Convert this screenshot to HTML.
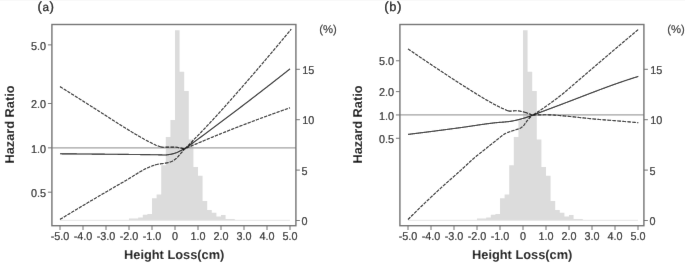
<!DOCTYPE html>
<html><head><meta charset="utf-8"><style>
html,body{margin:0;padding:0;background:#fff;}
svg{display:block;}
text{font-family:"Liberation Sans",sans-serif;text-rendering:geometricPrecision;}
.tk{font-size:11.4px;fill:#1a1a1a;stroke:#1a1a1a;stroke-width:0.18px;}
.ax{font-size:12.8px;font-weight:bold;fill:#111;}
.pl{font-size:13.4px;fill:#000;stroke:#000;stroke-width:0.25px;}
.pc{font-size:11.3px;fill:#222;stroke:#222;stroke-width:0.15px;}
</style></head><body>
<svg width="685" height="266" viewBox="0 0 685 266">
<defs><filter id="bl" x="0" y="0" width="100%" height="100%"><feConvolveMatrix order="3" kernelMatrix="0.0035 0.0587 0.0035 0.0587 1.0000 0.0587 0.0035 0.0587 0.0035" edgeMode="duplicate" preserveAlpha="true"/></filter></defs>
<rect width="685" height="266" fill="#fff"/>
<g filter="url(#bl)">
<rect width="685" height="266" fill="#fff"/>
<path d="M129.00 220.30 L129.00 218.50 L133.60 218.50 L133.60 218.50 L138.20 218.50 L138.20 217.60 L142.80 217.60 L142.80 214.70 L147.40 214.70 L147.40 213.90 L152.00 213.90 L152.00 198.20 L156.60 198.20 L156.60 194.40 L161.20 194.40 L161.20 165.30 L165.80 165.30 L165.80 137.00 L170.40 137.00 L170.40 120.00 L175.00 120.00 L175.00 30.20 L179.60 30.20 L179.60 71.70 L184.20 71.70 L184.20 91.00 L188.80 91.00 L188.80 139.50 L193.40 139.50 L193.40 167.00 L198.00 167.00 L198.00 175.80 L202.60 175.80 L202.60 201.00 L207.20 201.00 L207.20 209.90 L211.80 209.90 L211.80 212.80 L216.40 212.80 L216.40 216.50 L221.00 216.50 L221.00 215.00 L225.60 215.00 L225.60 219.00 L230.20 219.00 L230.20 219.00 L234.80 219.00 L234.80 220.30 Z" fill="#dcdcdc"/>
<line x1="60.0" y1="220.3" x2="290.0" y2="220.3" stroke="#e4e4e4" stroke-width="1"/>
<line x1="51.9" y1="147.85" x2="295.9" y2="147.85" stroke="#a0a0a0" stroke-width="1.3"/>
<path d="M60.00 86.60 L60.50 86.91 L61.00 87.23 L61.50 87.54 L62.00 87.86 L62.50 88.17 L63.00 88.49 L63.50 88.80 L64.00 89.12 L64.50 89.43 L65.00 89.75 L65.50 90.06 L66.00 90.37 L66.50 90.69 L67.00 91.00 L67.50 91.32 L68.00 91.63 L68.50 91.95 L69.00 92.26 L69.50 92.58 L70.00 92.89 L70.50 93.21 L71.00 93.52 L71.50 93.84 L72.00 94.16 L72.50 94.47 L73.00 94.79 L73.50 95.10 L74.00 95.42 L74.50 95.73 L75.00 96.05 L75.50 96.36 L76.00 96.68 L76.50 96.99 L77.00 97.31 L77.50 97.63 L78.00 97.94 L78.50 98.26 L79.00 98.57 L79.50 98.89 L80.00 99.21 L80.50 99.52 L81.00 99.84 L81.50 100.15 L82.00 100.47 L82.50 100.79 L83.00 101.10 L83.50 101.42 L84.00 101.73 L84.50 102.05 L85.00 102.37 L85.50 102.68 L86.00 103.00 L86.50 103.32 L87.00 103.63 L87.50 103.95 L88.00 104.26 L88.50 104.58 L89.00 104.90 L89.50 105.21 L90.00 105.53 L90.50 105.85 L91.00 106.16 L91.50 106.48 L92.00 106.80 L92.50 107.12 L93.00 107.43 L93.50 107.75 L94.00 108.07 L94.50 108.38 L95.00 108.70 L95.50 109.02 L96.00 109.33 L96.50 109.65 L97.00 109.97 L97.50 110.29 L98.00 110.61 L98.50 110.93 L99.00 111.25 L99.50 111.57 L100.00 111.89 L100.50 112.21 L101.00 112.53 L101.50 112.85 L102.00 113.17 L102.50 113.49 L103.00 113.81 L103.50 114.13 L104.00 114.45 L104.50 114.77 L105.00 115.09 L105.50 115.42 L106.00 115.74 L106.50 116.06 L107.00 116.38 L107.50 116.70 L108.00 117.02 L108.50 117.34 L109.00 117.66 L109.50 117.99 L110.00 118.31 L110.50 118.63 L111.00 118.95 L111.50 119.27 L112.00 119.59 L112.50 119.91 L113.00 120.23 L113.50 120.55 L114.00 120.87 L114.50 121.19 L115.00 121.51 L115.50 121.82 L116.00 122.14 L116.50 122.46 L117.00 122.78 L117.50 123.10 L118.00 123.41 L118.50 123.73 L119.00 124.05 L119.50 124.36 L120.00 124.68 L120.50 124.99 L121.00 125.31 L121.50 125.62 L122.00 125.93 L122.50 126.24 L123.00 126.56 L123.50 126.87 L124.00 127.18 L124.50 127.49 L125.00 127.80 L125.50 128.11 L126.00 128.42 L126.50 128.73 L127.00 129.04 L127.50 129.35 L128.00 129.66 L128.50 129.97 L129.00 130.27 L129.50 130.58 L130.00 130.89 L130.50 131.20 L131.00 131.50 L131.50 131.81 L132.00 132.11 L132.50 132.42 L133.00 132.72 L133.50 133.02 L134.00 133.32 L134.50 133.62 L135.00 133.92 L135.50 134.22 L136.00 134.52 L136.50 134.81 L137.00 135.10 L137.50 135.39 L138.00 135.68 L138.50 135.97 L139.00 136.26 L139.50 136.55 L140.00 136.84 L140.50 137.13 L141.00 137.42 L141.50 137.71 L142.00 137.99 L142.50 138.28 L143.00 138.56 L143.50 138.85 L144.00 139.13 L144.50 139.41 L145.00 139.69 L145.50 139.97 L146.00 140.25 L146.50 140.52 L147.00 140.79 L147.50 141.06 L148.00 141.33 L148.50 141.59 L149.00 141.85 L149.50 142.11 L150.00 142.36 L150.50 142.61 L151.00 142.85 L151.50 143.10 L152.00 143.34 L152.50 143.58 L153.00 143.83 L153.50 144.07 L154.00 144.31 L154.50 144.54 L155.00 144.77 L155.50 144.99 L156.00 145.21 L156.50 145.41 L157.00 145.59 L157.50 145.77 L158.00 145.93 L158.50 146.09 L159.00 146.26 L159.50 146.43 L160.00 146.59 L160.50 146.74" fill="none" stroke="#111" stroke-width="1.12" stroke-dasharray="3.3 1.1"/><path d="M160.50 146.74 L161.00 146.88 L161.50 147.00 L162.00 147.10 L162.50 147.16 L163.00 147.20 L163.50 147.20 L164.00 147.19 L164.50 147.17 L165.00 147.16 L165.50 147.14 L166.00 147.12 L166.50 147.11 L167.00 147.10 L167.50 147.10 L168.00 147.10 L168.50 147.10 L169.00 147.10 L169.50 147.10 L170.00 147.10 L170.50 147.10 L171.00 147.10 L171.50 147.10 L172.00 147.10 L172.50 147.10 L173.00 147.10 L173.50 147.10 L174.00 147.10 L174.50 147.10 L175.00 147.10 L175.50 147.11 L176.00 147.16 L176.50 147.22 L177.00 147.30 L177.50 147.39 L178.00 147.49 L178.50 147.60 L179.00 147.71 L179.50 147.81 L180.00 147.90 L180.50 147.99 L181.00 148.08 L181.50 148.17 L182.00 148.26 L182.50 148.35 L183.00 148.45 L183.50 148.54 L184.00 148.64 L184.50 148.74 L184.80 148.80" fill="none" stroke="#111" stroke-width="1.12" stroke-dasharray="3.8 1.2"/><path d="M184.80 148.80 L185.30 148.30 L185.80 147.81 L186.30 147.31 L186.80 146.81 L187.30 146.31 L187.80 145.81 L188.30 145.31 L188.80 144.80 L189.30 144.30 L189.80 143.80 L190.30 143.29 L190.80 142.79 L191.30 142.28 L191.80 141.78 L192.30 141.27 L192.80 140.76 L193.30 140.25 L193.80 139.74 L194.30 139.23 L194.80 138.72 L195.30 138.20 L195.80 137.69 L196.30 137.18 L196.80 136.66 L197.30 136.15 L197.80 135.63 L198.30 135.12 L198.80 134.60 L199.30 134.08 L199.80 133.56 L200.30 133.04 L200.80 132.52 L201.30 132.00 L201.80 131.48 L202.30 130.95 L202.80 130.43 L203.30 129.91 L203.80 129.38 L204.30 128.86 L204.80 128.33 L205.30 127.80 L205.80 127.27 L206.30 126.75 L206.80 126.22 L207.30 125.69 L207.80 125.16 L208.30 124.63 L208.80 124.09 L209.30 123.56 L209.80 123.03 L210.30 122.49 L210.80 121.96 L211.30 121.42 L211.80 120.89 L212.30 120.35 L212.80 119.82 L213.30 119.28 L213.80 118.74 L214.30 118.20 L214.80 117.66 L215.30 117.11 L215.80 116.57 L216.30 116.02 L216.80 115.48 L217.30 114.93 L217.80 114.38 L218.30 113.83 L218.80 113.28 L219.30 112.73 L219.80 112.18 L220.30 111.62 L220.80 111.07 L221.30 110.52 L221.80 109.96 L222.30 109.40 L222.80 108.85 L223.30 108.29 L223.80 107.73 L224.30 107.17 L224.80 106.61 L225.30 106.05 L225.80 105.49 L226.30 104.92 L226.80 104.36 L227.30 103.80 L227.80 103.23 L228.30 102.67 L228.80 102.10 L229.30 101.54 L229.80 100.97 L230.30 100.41 L230.80 99.84 L231.30 99.28 L231.80 98.71 L232.30 98.14 L232.80 97.57 L233.30 97.01 L233.80 96.44 L234.30 95.87 L234.80 95.30 L235.30 94.74 L235.80 94.17 L236.30 93.60 L236.80 93.03 L237.30 92.46 L237.80 91.90 L238.30 91.33 L238.80 90.76 L239.30 90.19 L239.80 89.62 L240.30 89.05 L240.80 88.48 L241.30 87.91 L241.80 87.34 L242.30 86.77 L242.80 86.20 L243.30 85.63 L243.80 85.06 L244.30 84.48 L244.80 83.91 L245.30 83.34 L245.80 82.76 L246.30 82.19 L246.80 81.61 L247.30 81.04 L247.80 80.46 L248.30 79.89 L248.80 79.31 L249.30 78.73 L249.80 78.16 L250.30 77.58 L250.80 77.00 L251.30 76.42 L251.80 75.84 L252.30 75.27 L252.80 74.69 L253.30 74.11 L253.80 73.53 L254.30 72.95 L254.80 72.36 L255.30 71.78 L255.80 71.20 L256.30 70.62 L256.80 70.04 L257.30 69.45 L257.80 68.87 L258.30 68.29 L258.80 67.70 L259.30 67.12 L259.80 66.53 L260.30 65.95 L260.80 65.36 L261.30 64.78 L261.80 64.19 L262.30 63.61 L262.80 63.02 L263.30 62.43 L263.80 61.85 L264.30 61.26 L264.80 60.67 L265.30 60.08 L265.80 59.50 L266.30 58.91 L266.80 58.32 L267.30 57.73 L267.80 57.14 L268.30 56.55 L268.80 55.96 L269.30 55.37 L269.80 54.78 L270.30 54.19 L270.80 53.60 L271.30 53.01 L271.80 52.41 L272.30 51.82 L272.80 51.23 L273.30 50.64 L273.80 50.04 L274.30 49.45 L274.80 48.86 L275.30 48.26 L275.80 47.67 L276.30 47.07 L276.80 46.48 L277.30 45.88 L277.80 45.29 L278.30 44.69 L278.80 44.10 L279.30 43.50 L279.80 42.90 L280.30 42.31 L280.80 41.71 L281.30 41.11 L281.80 40.51 L282.30 39.91 L282.80 39.31 L283.30 38.72 L283.80 38.12 L284.30 37.52 L284.80 36.92 L285.30 36.31 L285.80 35.71 L286.30 35.11 L286.80 34.51 L287.30 33.91 L287.80 33.31 L288.30 32.70 L288.80 32.10 L289.30 31.50 L289.80 30.89 L290.30 30.29 L290.80 29.68 L291.20 29.20" fill="none" stroke="#111" stroke-width="1.12" stroke-dasharray="3.3 1.1"/>
<path d="M60.00 219.40 L60.50 219.10 L61.00 218.79 L61.50 218.49 L62.00 218.18 L62.50 217.88 L63.00 217.58 L63.50 217.27 L64.00 216.97 L64.50 216.67 L65.00 216.37 L65.50 216.06 L66.00 215.76 L66.50 215.46 L67.00 215.16 L67.50 214.85 L68.00 214.55 L68.50 214.25 L69.00 213.95 L69.50 213.65 L70.00 213.35 L70.50 213.05 L71.00 212.74 L71.50 212.44 L72.00 212.14 L72.50 211.84 L73.00 211.54 L73.50 211.24 L74.00 210.94 L74.50 210.64 L75.00 210.34 L75.50 210.04 L76.00 209.74 L76.50 209.44 L77.00 209.14 L77.50 208.84 L78.00 208.54 L78.50 208.24 L79.00 207.95 L79.50 207.65 L80.00 207.35 L80.50 207.05 L81.00 206.75 L81.50 206.45 L82.00 206.16 L82.50 205.86 L83.00 205.56 L83.50 205.26 L84.00 204.96 L84.50 204.67 L85.00 204.37 L85.50 204.07 L86.00 203.77 L86.50 203.48 L87.00 203.18 L87.50 202.88 L88.00 202.59 L88.50 202.29 L89.00 201.99 L89.50 201.70 L90.00 201.40 L90.50 201.10 L91.00 200.81 L91.50 200.51 L92.00 200.22 L92.50 199.92 L93.00 199.63 L93.50 199.33 L94.00 199.04 L94.50 198.74 L95.00 198.45 L95.50 198.15 L96.00 197.86 L96.50 197.56 L97.00 197.27 L97.50 196.97 L98.00 196.68 L98.50 196.38 L99.00 196.09 L99.50 195.79 L100.00 195.50 L100.50 195.21 L101.00 194.91 L101.50 194.62 L102.00 194.33 L102.50 194.03 L103.00 193.74 L103.50 193.45 L104.00 193.15 L104.50 192.86 L105.00 192.57 L105.50 192.28 L106.00 191.99 L106.50 191.69 L107.00 191.40 L107.50 191.11 L108.00 190.82 L108.50 190.53 L109.00 190.24 L109.50 189.95 L110.00 189.66 L110.50 189.37 L111.00 189.08 L111.50 188.79 L112.00 188.50 L112.50 188.21 L113.00 187.92 L113.50 187.63 L114.00 187.34 L114.50 187.05 L115.00 186.76 L115.50 186.47 L116.00 186.18 L116.50 185.89 L117.00 185.60 L117.50 185.32 L118.00 185.03 L118.50 184.74 L119.00 184.45 L119.50 184.16 L120.00 183.87 L120.50 183.59 L121.00 183.30 L121.50 183.01 L122.00 182.72 L122.50 182.44 L123.00 182.15 L123.50 181.86 L124.00 181.57 L124.50 181.29 L125.00 181.00 L125.50 180.71 L126.00 180.42 L126.50 180.13 L127.00 179.83 L127.50 179.53 L128.00 179.23 L128.50 178.92 L129.00 178.62 L129.50 178.31 L130.00 178.00 L130.50 177.70 L131.00 177.39 L131.50 177.07 L132.00 176.76 L132.50 176.45 L133.00 176.14 L133.50 175.83 L134.00 175.51 L134.50 175.20 L135.00 174.89 L135.50 174.58 L136.00 174.27 L136.50 173.96 L137.00 173.65 L137.50 173.35 L138.00 173.05 L138.50 172.74 L139.00 172.44 L139.50 172.15 L140.00 171.85 L140.50 171.56 L141.00 171.27 L141.50 170.99 L142.00 170.70 L142.50 170.43 L143.00 170.15 L143.50 169.88 L144.00 169.61 L144.50 169.35 L145.00 169.09 L145.50 168.84 L146.00 168.59 L146.50 168.34 L147.00 168.11 L147.50 167.87 L148.00 167.65 L148.50 167.43 L149.00 167.21 L149.50 167.00 L150.00 166.80 L150.50 166.60 L151.00 166.40 L151.50 166.21 L152.00 166.02 L152.50 165.83 L153.00 165.65 L153.50 165.47 L154.00 165.30 L154.50 165.13 L155.00 164.97" fill="none" stroke="#111" stroke-width="1.12" stroke-dasharray="3.3 1.1"/><path d="M155.00 164.97 L155.50 164.82 L156.00 164.68 L156.50 164.55 L157.00 164.43 L157.50 164.32 L158.00 164.22 L158.50 164.13 L159.00 164.05 L159.50 163.98 L160.00 163.91 L160.50 163.84 L161.00 163.78 L161.50 163.72 L162.00 163.66 L162.50 163.59 L163.00 163.53 L163.50 163.46 L164.00 163.39 L164.50 163.31 L165.00 163.22 L165.50 163.12 L166.00 163.03 L166.50 162.93 L167.00 162.83 L167.50 162.72 L168.00 162.61 L168.50 162.48 L169.00 162.36 L169.50 162.22 L170.00 162.07" fill="none" stroke="#111" stroke-width="1.12" stroke-dasharray="3.8 1.2"/><path d="M170.00 162.07 L170.50 161.91 L171.00 161.74 L171.50 161.54 L172.00 161.32 L172.50 161.06 L173.00 160.78 L173.50 160.47 L174.00 160.14 L174.50 159.79 L175.00 159.41 L175.50 159.03 L176.00 158.63 L176.50 158.22 L177.00 157.75 L177.50 157.23 L178.00 156.67 L178.50 156.08 L179.00 155.48 L179.50 154.88 L180.00 154.30 L180.50 153.74 L181.00 153.17 L181.50 152.60 L182.00 152.03 L182.50 151.46 L183.00 150.88 L183.50 150.31 L184.00 149.73 L184.50 149.15 L184.80 148.80 L185.30 148.58 L185.80 148.37 L186.30 148.15 L186.80 147.93 L187.30 147.72 L187.80 147.50 L188.30 147.28 L188.80 147.07 L189.30 146.85 L189.80 146.64 L190.30 146.42 L190.80 146.21 L191.30 145.99 L191.80 145.78 L192.30 145.56 L192.80 145.35 L193.30 145.14 L193.80 144.92 L194.30 144.71 L194.80 144.50 L195.30 144.28 L195.80 144.07 L196.30 143.86 L196.80 143.65 L197.30 143.43 L197.80 143.22 L198.30 143.01 L198.80 142.80 L199.30 142.59 L199.80 142.38 L200.30 142.17 L200.80 141.95 L201.30 141.74 L201.80 141.53 L202.30 141.32 L202.80 141.12 L203.30 140.91 L203.80 140.70 L204.30 140.49 L204.80 140.28 L205.30 140.07 L205.80 139.86 L206.30 139.65 L206.80 139.45 L207.30 139.24 L207.80 139.03 L208.30 138.82 L208.80 138.62 L209.30 138.41 L209.80 138.21 L210.30 138.00 L210.80 137.79 L211.30 137.59 L211.80 137.38 L212.30 137.18 L212.80 136.97 L213.30 136.77 L213.80 136.56 L214.30 136.36 L214.80 136.15 L215.30 135.95 L215.80 135.75 L216.30 135.54 L216.80 135.34 L217.30 135.13 L217.80 134.93 L218.30 134.73 L218.80 134.52 L219.30 134.32 L219.80 134.12 L220.30 133.92 L220.80 133.71 L221.30 133.51 L221.80 133.31 L222.30 133.11 L222.80 132.91 L223.30 132.71 L223.80 132.51 L224.30 132.31 L224.80 132.11 L225.30 131.91 L225.80 131.71 L226.30 131.51 L226.80 131.31 L227.30 131.11 L227.80 130.91 L228.30 130.71 L228.80 130.51 L229.30 130.31 L229.80 130.11 L230.30 129.92 L230.80 129.72 L231.30 129.52 L231.80 129.33 L232.30 129.13 L232.80 128.93 L233.30 128.74 L233.80 128.54 L234.30 128.35 L234.80 128.15 L235.30 127.96 L235.80 127.76 L236.30 127.57 L236.80 127.37 L237.30 127.18 L237.80 126.99 L238.30 126.79 L238.80 126.60 L239.30 126.41 L239.80 126.22 L240.30 126.02 L240.80 125.83 L241.30 125.64 L241.80 125.45 L242.30 125.26 L242.80 125.07 L243.30 124.88 L243.80 124.68 L244.30 124.49 L244.80 124.30 L245.30 124.11 L245.80 123.92 L246.30 123.73 L246.80 123.54 L247.30 123.35 L247.80 123.16 L248.30 122.97 L248.80 122.78 L249.30 122.60 L249.80 122.41 L250.30 122.22 L250.80 122.03 L251.30 121.84 L251.80 121.65 L252.30 121.46 L252.80 121.28 L253.30 121.09 L253.80 120.90 L254.30 120.71 L254.80 120.52 L255.30 120.34 L255.80 120.15 L256.30 119.96 L256.80 119.78 L257.30 119.59 L257.80 119.40 L258.30 119.22 L258.80 119.03 L259.30 118.84 L259.80 118.66 L260.30 118.47 L260.80 118.29 L261.30 118.10 L261.80 117.92 L262.30 117.73 L262.80 117.55 L263.30 117.36 L263.80 117.18 L264.30 116.99 L264.80 116.81 L265.30 116.63 L265.80 116.44 L266.30 116.26 L266.80 116.08 L267.30 115.89 L267.80 115.71 L268.30 115.53 L268.80 115.35 L269.30 115.16 L269.80 114.98 L270.30 114.80 L270.80 114.62 L271.30 114.44 L271.80 114.25 L272.30 114.07 L272.80 113.89 L273.30 113.71 L273.80 113.53 L274.30 113.35 L274.80 113.17 L275.30 112.99 L275.80 112.81 L276.30 112.63 L276.80 112.45 L277.30 112.27 L277.80 112.09 L278.30 111.92 L278.80 111.74 L279.30 111.56 L279.80 111.38 L280.30 111.20 L280.80 111.03 L281.30 110.85 L281.80 110.67 L282.30 110.49 L282.80 110.32 L283.30 110.14 L283.80 109.97 L284.30 109.79 L284.80 109.61 L285.30 109.44 L285.80 109.26 L286.30 109.09 L286.80 108.91 L287.30 108.74 L287.80 108.56 L288.30 108.39 L288.80 108.22 L289.30 108.04 L289.80 107.87 L290.00 107.80" fill="none" stroke="#111" stroke-width="1.12" stroke-dasharray="3.3 1.1"/>
<path d="M60.00 153.80 L60.50 153.80 L61.00 153.81 L61.50 153.81 L62.00 153.82 L62.50 153.82 L63.00 153.82 L63.50 153.83 L64.00 153.83 L64.50 153.83 L65.00 153.84 L65.50 153.84 L66.00 153.85 L66.50 153.85 L67.00 153.85 L67.50 153.86 L68.00 153.86 L68.50 153.87 L69.00 153.87 L69.50 153.87 L70.00 153.88 L70.50 153.88 L71.00 153.89 L71.50 153.89 L72.00 153.89 L72.50 153.90 L73.00 153.90 L73.50 153.91 L74.00 153.91 L74.50 153.92 L75.00 153.92 L75.50 153.92 L76.00 153.93 L76.50 153.93 L77.00 153.94 L77.50 153.94 L78.00 153.94 L78.50 153.95 L79.00 153.95 L79.50 153.96 L80.00 153.96 L80.50 153.97 L81.00 153.97 L81.50 153.97 L82.00 153.98 L82.50 153.98 L83.00 153.99 L83.50 153.99 L84.00 154.00 L84.50 154.00 L85.00 154.01 L85.50 154.01 L86.00 154.01 L86.50 154.02 L87.00 154.02 L87.50 154.03 L88.00 154.03 L88.50 154.04 L89.00 154.04 L89.50 154.05 L90.00 154.05 L90.50 154.05 L91.00 154.06 L91.50 154.06 L92.00 154.07 L92.50 154.07 L93.00 154.08 L93.50 154.08 L94.00 154.09 L94.50 154.09 L95.00 154.10 L95.50 154.10 L96.00 154.10 L96.50 154.11 L97.00 154.11 L97.50 154.12 L98.00 154.12 L98.50 154.13 L99.00 154.13 L99.50 154.14 L100.00 154.14 L100.50 154.15 L101.00 154.15 L101.50 154.16 L102.00 154.16 L102.50 154.17 L103.00 154.17 L103.50 154.17 L104.00 154.18 L104.50 154.18 L105.00 154.19 L105.50 154.19 L106.00 154.20 L106.50 154.20 L107.00 154.21 L107.50 154.21 L108.00 154.22 L108.50 154.22 L109.00 154.23 L109.50 154.23 L110.00 154.24 L110.50 154.24 L111.00 154.25 L111.50 154.25 L112.00 154.26 L112.50 154.26 L113.00 154.27 L113.50 154.27 L114.00 154.28 L114.50 154.28 L115.00 154.29 L115.50 154.29 L116.00 154.30 L116.50 154.30 L117.00 154.31 L117.50 154.31 L118.00 154.32 L118.50 154.32 L119.00 154.33 L119.50 154.33 L120.00 154.34 L120.50 154.35 L121.00 154.35 L121.50 154.36 L122.00 154.36 L122.50 154.37 L123.00 154.37 L123.50 154.38 L124.00 154.38 L124.50 154.39 L125.00 154.39 L125.50 154.40 L126.00 154.40 L126.50 154.41 L127.00 154.42 L127.50 154.42 L128.00 154.43 L128.50 154.43 L129.00 154.44 L129.50 154.44 L130.00 154.45 L130.50 154.46 L131.00 154.46 L131.50 154.47 L132.00 154.47 L132.50 154.48 L133.00 154.48 L133.50 154.49 L134.00 154.49 L134.50 154.50 L135.00 154.51 L135.50 154.51 L136.00 154.52 L136.50 154.52 L137.00 154.53 L137.50 154.53 L138.00 154.54 L138.50 154.54 L139.00 154.55 L139.50 154.55 L140.00 154.56 L140.50 154.57 L141.00 154.57 L141.50 154.58 L142.00 154.58 L142.50 154.59 L143.00 154.59 L143.50 154.60 L144.00 154.61 L144.50 154.61 L145.00 154.62 L145.50 154.62 L146.00 154.63 L146.50 154.64 L147.00 154.64 L147.50 154.65 L148.00 154.65 L148.50 154.66 L149.00 154.67 L149.50 154.67 L150.00 154.68 L150.50 154.69 L151.00 154.70 L151.50 154.70 L152.00 154.71 L152.50 154.72 L153.00 154.73 L153.50 154.73 L154.00 154.74 L154.50 154.75 L155.00 154.76 L155.50 154.77 L156.00 154.77 L156.50 154.78 L157.00 154.79 L157.50 154.80 L158.00 154.81 L158.50 154.82 L159.00 154.83 L159.50 154.84 L160.00 154.85 L160.50 154.86 L161.00 154.88 L161.50 154.90 L162.00 154.92 L162.50 154.94 L163.00 154.96 L163.50 154.97 L164.00 154.99 L164.50 155.00 L165.00 155.00 L165.50 154.99 L166.00 154.97 L166.50 154.93 L167.00 154.87 L167.50 154.81 L168.00 154.74 L168.50 154.66 L169.00 154.57 L169.50 154.48 L170.00 154.39 L170.50 154.29 L171.00 154.20 L171.50 154.10 L172.00 154.00 L172.50 153.88 L173.00 153.76 L173.50 153.62 L174.00 153.48 L174.50 153.33 L175.00 153.17 L175.50 153.01 L176.00 152.84 L176.50 152.66 L177.00 152.46 L177.50 152.24 L178.00 152.00 L178.50 151.75 L179.00 151.49 L179.50 151.24 L180.00 151.00 L180.50 150.77 L181.00 150.54 L181.50 150.30 L182.00 150.07 L182.50 149.85 L183.00 149.62 L183.50 149.39 L184.00 149.16 L184.50 148.94 L184.80 148.80 L185.30 148.44 L185.80 148.07 L186.30 147.71 L186.80 147.34 L187.30 146.98 L187.80 146.61 L188.30 146.24 L188.80 145.88 L189.30 145.51 L189.80 145.15 L190.30 144.78 L190.80 144.42 L191.30 144.05 L191.80 143.68 L192.30 143.32 L192.80 142.95 L193.30 142.58 L193.80 142.21 L194.30 141.85 L194.80 141.48 L195.30 141.11 L195.80 140.74 L196.30 140.38 L196.80 140.01 L197.30 139.64 L197.80 139.27 L198.30 138.90 L198.80 138.54 L199.30 138.17 L199.80 137.80 L200.30 137.43 L200.80 137.06 L201.30 136.69 L201.80 136.32 L202.30 135.95 L202.80 135.58 L203.30 135.21 L203.80 134.84 L204.30 134.47 L204.80 134.10 L205.30 133.73 L205.80 133.36 L206.30 132.99 L206.80 132.62 L207.30 132.25 L207.80 131.88 L208.30 131.50 L208.80 131.13 L209.30 130.76 L209.80 130.39 L210.30 130.02 L210.80 129.64 L211.30 129.27 L211.80 128.90 L212.30 128.53 L212.80 128.16 L213.30 127.78 L213.80 127.41 L214.30 127.04 L214.80 126.66 L215.30 126.29 L215.80 125.92 L216.30 125.54 L216.80 125.17 L217.30 124.80 L217.80 124.42 L218.30 124.05 L218.80 123.67 L219.30 123.30 L219.80 122.92 L220.30 122.55 L220.80 122.17 L221.30 121.80 L221.80 121.42 L222.30 121.05 L222.80 120.67 L223.30 120.30 L223.80 119.92 L224.30 119.55 L224.80 119.17 L225.30 118.79 L225.80 118.42 L226.30 118.04 L226.80 117.66 L227.30 117.29 L227.80 116.91 L228.30 116.53 L228.80 116.16 L229.30 115.78 L229.80 115.40 L230.30 115.03 L230.80 114.65 L231.30 114.27 L231.80 113.89 L232.30 113.51 L232.80 113.14 L233.30 112.76 L233.80 112.38 L234.30 112.00 L234.80 111.62 L235.30 111.24 L235.80 110.86 L236.30 110.49 L236.80 110.11 L237.30 109.73 L237.80 109.35 L238.30 108.97 L238.80 108.59 L239.30 108.21 L239.80 107.83 L240.30 107.45 L240.80 107.07 L241.30 106.69 L241.80 106.31 L242.30 105.93 L242.80 105.54 L243.30 105.16 L243.80 104.78 L244.30 104.40 L244.80 104.02 L245.30 103.64 L245.80 103.26 L246.30 102.87 L246.80 102.49 L247.30 102.11 L247.80 101.73 L248.30 101.34 L248.80 100.96 L249.30 100.58 L249.80 100.20 L250.30 99.81 L250.80 99.43 L251.30 99.05 L251.80 98.66 L252.30 98.28 L252.80 97.89 L253.30 97.51 L253.80 97.12 L254.30 96.74 L254.80 96.36 L255.30 95.97 L255.80 95.59 L256.30 95.20 L256.80 94.82 L257.30 94.43 L257.80 94.04 L258.30 93.66 L258.80 93.27 L259.30 92.89 L259.80 92.50 L260.30 92.11 L260.80 91.73 L261.30 91.34 L261.80 90.95 L262.30 90.57 L262.80 90.18 L263.30 89.79 L263.80 89.41 L264.30 89.02 L264.80 88.63 L265.30 88.24 L265.80 87.85 L266.30 87.47 L266.80 87.08 L267.30 86.69 L267.80 86.30 L268.30 85.91 L268.80 85.52 L269.30 85.13 L269.80 84.74 L270.30 84.35 L270.80 83.97 L271.30 83.58 L271.80 83.19 L272.30 82.80 L272.80 82.41 L273.30 82.02 L273.80 81.63 L274.30 81.23 L274.80 80.84 L275.30 80.45 L275.80 80.06 L276.30 79.67 L276.80 79.28 L277.30 78.89 L277.80 78.50 L278.30 78.11 L278.80 77.71 L279.30 77.32 L279.80 76.93 L280.30 76.54 L280.80 76.14 L281.30 75.75 L281.80 75.36 L282.30 74.97 L282.80 74.57 L283.30 74.18 L283.80 73.79 L284.30 73.39 L284.80 73.00 L285.30 72.61 L285.80 72.21 L286.30 71.82 L286.80 71.43 L287.30 71.03 L287.80 70.64 L288.30 70.24 L288.80 69.85 L289.30 69.45 L289.80 69.06 L290.00 68.90" fill="none" stroke="#111" stroke-width="1.12"/>
<rect x="51.9" y="24.5" width="244.0" height="201.2" fill="none" stroke="#707070" stroke-width="1.4"/>
<line x1="47.9" y1="44.89" x2="51.9" y2="44.89" stroke="#707070" stroke-width="1"/>
<text transform="translate(46.05,49.59) scale(0.95,1)" text-anchor="end" class="tk">5.0</text>
<line x1="47.9" y1="103.51" x2="51.9" y2="103.51" stroke="#707070" stroke-width="1"/>
<text transform="translate(46.05,108.21) scale(0.95,1)" text-anchor="end" class="tk">2.0</text>
<line x1="47.9" y1="147.85" x2="51.9" y2="147.85" stroke="#707070" stroke-width="1"/>
<text transform="translate(46.05,152.55) scale(0.95,1)" text-anchor="end" class="tk">1.0</text>
<line x1="47.9" y1="192.19" x2="51.9" y2="192.19" stroke="#707070" stroke-width="1"/>
<text transform="translate(46.05,196.89) scale(0.95,1)" text-anchor="end" class="tk">0.5</text>
<line x1="295.9" y1="220.50" x2="299.9" y2="220.50" stroke="#707070" stroke-width="1"/>
<text transform="translate(301.60,224.90) scale(0.95,1)" class="tk">0</text>
<line x1="295.9" y1="170.10" x2="299.9" y2="170.10" stroke="#707070" stroke-width="1"/>
<text transform="translate(301.60,174.50) scale(0.95,1)" class="tk">5</text>
<line x1="295.9" y1="119.70" x2="299.9" y2="119.70" stroke="#707070" stroke-width="1"/>
<text transform="translate(302.30,124.10) scale(0.95,1)" class="tk">10</text>
<line x1="295.9" y1="69.30" x2="299.9" y2="69.30" stroke="#707070" stroke-width="1"/>
<text transform="translate(302.30,73.70) scale(0.95,1)" class="tk">15</text>
<line x1="60.00" y1="225.7" x2="60.00" y2="230.0" stroke="#707070" stroke-width="1"/>
<text transform="translate(60.00,240.3) scale(0.95,1)" text-anchor="middle" class="tk">-5.0</text>
<line x1="83.00" y1="225.7" x2="83.00" y2="230.0" stroke="#707070" stroke-width="1"/>
<text transform="translate(83.00,240.3) scale(0.95,1)" text-anchor="middle" class="tk">-4.0</text>
<line x1="106.00" y1="225.7" x2="106.00" y2="230.0" stroke="#707070" stroke-width="1"/>
<text transform="translate(106.00,240.3) scale(0.95,1)" text-anchor="middle" class="tk">-3.0</text>
<line x1="129.00" y1="225.7" x2="129.00" y2="230.0" stroke="#707070" stroke-width="1"/>
<text transform="translate(129.00,240.3) scale(0.95,1)" text-anchor="middle" class="tk">-2.0</text>
<line x1="152.00" y1="225.7" x2="152.00" y2="230.0" stroke="#707070" stroke-width="1"/>
<text transform="translate(152.00,240.3) scale(0.95,1)" text-anchor="middle" class="tk">-1.0</text>
<line x1="175.00" y1="225.7" x2="175.00" y2="230.0" stroke="#707070" stroke-width="1"/>
<text transform="translate(175.00,240.3) scale(0.95,1)" text-anchor="middle" class="tk">0</text>
<line x1="198.00" y1="225.7" x2="198.00" y2="230.0" stroke="#707070" stroke-width="1"/>
<text transform="translate(198.00,240.3) scale(0.95,1)" text-anchor="middle" class="tk">1.0</text>
<line x1="221.00" y1="225.7" x2="221.00" y2="230.0" stroke="#707070" stroke-width="1"/>
<text transform="translate(221.00,240.3) scale(0.95,1)" text-anchor="middle" class="tk">2.0</text>
<line x1="244.00" y1="225.7" x2="244.00" y2="230.0" stroke="#707070" stroke-width="1"/>
<text transform="translate(244.00,240.3) scale(0.95,1)" text-anchor="middle" class="tk">3.0</text>
<line x1="267.00" y1="225.7" x2="267.00" y2="230.0" stroke="#707070" stroke-width="1"/>
<text transform="translate(267.00,240.3) scale(0.95,1)" text-anchor="middle" class="tk">4.0</text>
<line x1="290.00" y1="225.7" x2="290.00" y2="230.0" stroke="#707070" stroke-width="1"/>
<text transform="translate(290.00,240.3) scale(0.95,1)" text-anchor="middle" class="tk">5.0</text>
<text x="174.2" y="259" text-anchor="middle" class="ax">Height Loss(cm)</text>
<text transform="translate(14.0,124.5) rotate(-90)" text-anchor="middle" class="ax">Hazard Ratio</text>
<text y="10.9" class="pl"><tspan x="37.57">(</tspan><tspan x="42.41" style="font-size:11.7px">a</tspan><tspan x="49.48">)</tspan></text>
<text x="319.2" y="32.6" class="pc">(%)</text>
<path d="M477.00 220.30 L477.00 218.50 L481.60 218.50 L481.60 218.50 L486.20 218.50 L486.20 217.60 L490.80 217.60 L490.80 214.70 L495.40 214.70 L495.40 213.90 L500.00 213.90 L500.00 198.20 L504.60 198.20 L504.60 194.40 L509.20 194.40 L509.20 165.30 L513.80 165.30 L513.80 137.00 L518.40 137.00 L518.40 120.00 L523.00 120.00 L523.00 30.20 L527.60 30.20 L527.60 71.70 L532.20 71.70 L532.20 91.00 L536.80 91.00 L536.80 139.50 L541.40 139.50 L541.40 167.00 L546.00 167.00 L546.00 175.80 L550.60 175.80 L550.60 201.00 L555.20 201.00 L555.20 209.90 L559.80 209.90 L559.80 212.80 L564.40 212.80 L564.40 216.50 L569.00 216.50 L569.00 215.00 L573.60 215.00 L573.60 219.00 L578.20 219.00 L578.20 219.00 L582.80 219.00 L582.80 220.30 Z" fill="#dcdcdc"/>
<line x1="408.0" y1="220.3" x2="638.0" y2="220.3" stroke="#e4e4e4" stroke-width="1"/>
<line x1="399.9" y1="114.95" x2="643.9" y2="114.95" stroke="#a0a0a0" stroke-width="1.3"/>
<path d="M408.00 48.90 L408.50 49.24 L409.00 49.59 L409.50 49.93 L410.00 50.28 L410.50 50.62 L411.00 50.96 L411.50 51.30 L412.00 51.65 L412.50 51.99 L413.00 52.33 L413.50 52.67 L414.00 53.02 L414.50 53.36 L415.00 53.70 L415.50 54.04 L416.00 54.38 L416.50 54.72 L417.00 55.06 L417.50 55.40 L418.00 55.74 L418.50 56.08 L419.00 56.42 L419.50 56.76 L420.00 57.10 L420.50 57.44 L421.00 57.78 L421.50 58.12 L422.00 58.46 L422.50 58.79 L423.00 59.13 L423.50 59.47 L424.00 59.81 L424.50 60.14 L425.00 60.48 L425.50 60.82 L426.00 61.15 L426.50 61.49 L427.00 61.83 L427.50 62.16 L428.00 62.50 L428.50 62.84 L429.00 63.17 L429.50 63.51 L430.00 63.84 L430.50 64.18 L431.00 64.51 L431.50 64.84 L432.00 65.18 L432.50 65.51 L433.00 65.85 L433.50 66.18 L434.00 66.51 L434.50 66.85 L435.00 67.18 L435.50 67.51 L436.00 67.85 L436.50 68.18 L437.00 68.51 L437.50 68.84 L438.00 69.17 L438.50 69.51 L439.00 69.84 L439.50 70.17 L440.00 70.50 L440.50 70.83 L441.00 71.16 L441.50 71.49 L442.00 71.82 L442.50 72.16 L443.00 72.49 L443.50 72.82 L444.00 73.15 L444.50 73.48 L445.00 73.81 L445.50 74.14 L446.00 74.47 L446.50 74.80 L447.00 75.13 L447.50 75.46 L448.00 75.79 L448.50 76.12 L449.00 76.45 L449.50 76.78 L450.00 77.11 L450.50 77.44 L451.00 77.76 L451.50 78.09 L452.00 78.42 L452.50 78.75 L453.00 79.08 L453.50 79.40 L454.00 79.73 L454.50 80.05 L455.00 80.38 L455.50 80.71 L456.00 81.03 L456.50 81.35 L457.00 81.68 L457.50 82.00 L458.00 82.32 L458.50 82.65 L459.00 82.97 L459.50 83.29 L460.00 83.61 L460.50 83.93 L461.00 84.25 L461.50 84.57 L462.00 84.89 L462.50 85.21 L463.00 85.52 L463.50 85.84 L464.00 86.16 L464.50 86.47 L465.00 86.79 L465.50 87.10 L466.00 87.41 L466.50 87.72 L467.00 88.04 L467.50 88.35 L468.00 88.66 L468.50 88.98 L469.00 89.29 L469.50 89.60 L470.00 89.92 L470.50 90.23 L471.00 90.54 L471.50 90.85 L472.00 91.17 L472.50 91.48 L473.00 91.79 L473.50 92.10 L474.00 92.42 L474.50 92.73 L475.00 93.04 L475.50 93.35 L476.00 93.66 L476.50 93.97 L477.00 94.28 L477.50 94.59 L478.00 94.89 L478.50 95.20 L479.00 95.51 L479.50 95.81 L480.00 96.12 L480.50 96.42 L481.00 96.72 L481.50 97.03 L482.00 97.33 L482.50 97.63 L483.00 97.93 L483.50 98.22 L484.00 98.52 L484.50 98.82 L485.00 99.11 L485.50 99.40 L486.00 99.69 L486.50 99.98 L487.00 100.27 L487.50 100.56 L488.00 100.85 L488.50 101.13 L489.00 101.41 L489.50 101.69 L490.00 101.97 L490.50 102.25 L491.00 102.53 L491.50 102.80 L492.00 103.08 L492.50 103.35 L493.00 103.62 L493.50 103.89 L494.00 104.16 L494.50 104.43 L495.00 104.69 L495.50 104.96 L496.00 105.23 L496.50 105.49 L497.00 105.76 L497.50 106.02 L498.00 106.27 L498.50 106.53 L499.00 106.78 L499.50 107.03 L500.00 107.27 L500.50 107.51 L501.00 107.74 L501.50 107.97 L502.00 108.19 L502.50 108.41 L503.00 108.62 L503.50 108.83 L504.00 109.05 L504.50 109.28 L505.00 109.51 L505.50 109.75 L506.00 109.98 L506.50 110.20 L507.00 110.41 L507.50 110.60 L508.00 110.77" fill="none" stroke="#111" stroke-width="1.12" stroke-dasharray="3.3 1.1"/><path d="M508.00 110.77 L508.50 110.91 L509.00 111.01 L509.50 111.08 L510.00 111.10 L510.50 111.09 L511.00 111.07 L511.50 111.04 L512.00 111.00 L512.50 110.96 L513.00 110.91 L513.50 110.87 L514.00 110.82 L514.50 110.78 L515.00 110.74 L515.50 110.72 L516.00 110.70 L516.50 110.70 L517.00 110.72 L517.50 110.76 L518.00 110.81 L518.50 110.88 L519.00 110.95 L519.50 111.04 L520.00 111.14 L520.50 111.24 L521.00 111.35 L521.50 111.46 L522.00 111.57 L522.50 111.68 L523.00 111.79 L523.50 111.91 L524.00 112.04 L524.50 112.18 L525.00 112.33" fill="none" stroke="#111" stroke-width="1.12" stroke-dasharray="3.8 1.2"/><path d="M525.00 112.33 L525.50 112.49 L526.00 112.65 L526.50 112.82 L527.00 112.99 L527.50 113.16 L528.00 113.33 L528.50 113.51 L529.00 113.70 L529.50 113.89 L530.00 114.09 L530.50 114.29 L531.00 114.50 L531.50 114.71 L532.00 114.93 L532.50 115.15 L532.60 115.20 L533.10 114.89 L533.60 114.58 L534.10 114.27 L534.60 113.96 L535.10 113.64 L535.60 113.33 L536.10 113.01 L536.60 112.69 L537.10 112.36 L537.60 112.04 L538.10 111.71 L538.60 111.39 L539.10 111.06 L539.60 110.73 L540.10 110.39 L540.60 110.06 L541.10 109.72 L541.60 109.39 L542.10 109.05 L542.60 108.71 L543.10 108.36 L543.60 108.02 L544.10 107.67 L544.60 107.33 L545.10 106.98 L545.60 106.63 L546.10 106.28 L546.60 105.92 L547.10 105.57 L547.60 105.21 L548.10 104.86 L548.60 104.50 L549.10 104.14 L549.60 103.78 L550.10 103.41 L550.60 103.05 L551.10 102.69 L551.60 102.32 L552.10 101.95 L552.60 101.58 L553.10 101.21 L553.60 100.84 L554.10 100.47 L554.60 100.09 L555.10 99.72 L555.60 99.34 L556.10 98.97 L556.60 98.59 L557.10 98.21 L557.60 97.83 L558.10 97.45 L558.60 97.06 L559.10 96.68 L559.60 96.29 L560.10 95.91 L560.60 95.52 L561.10 95.13 L561.60 94.74 L562.10 94.34 L562.60 93.94 L563.10 93.54 L563.60 93.13 L564.10 92.72 L564.60 92.30 L565.10 91.89 L565.60 91.47 L566.10 91.05 L566.60 90.63 L567.10 90.20 L567.60 89.77 L568.10 89.34 L568.60 88.91 L569.10 88.48 L569.60 88.05 L570.10 87.61 L570.60 87.18 L571.10 86.74 L571.60 86.31 L572.10 85.87 L572.60 85.43 L573.10 85.00 L573.60 84.56 L574.10 84.13 L574.60 83.69 L575.10 83.26 L575.60 82.82 L576.10 82.39 L576.60 81.96 L577.10 81.53 L577.60 81.10 L578.10 80.67 L578.60 80.24 L579.10 79.82 L579.60 79.39 L580.10 78.97 L580.60 78.54 L581.10 78.11 L581.60 77.69 L582.10 77.26 L582.60 76.83 L583.10 76.41 L583.60 75.98 L584.10 75.55 L584.60 75.13 L585.10 74.70 L585.60 74.27 L586.10 73.84 L586.60 73.42 L587.10 72.99 L587.60 72.56 L588.10 72.13 L588.60 71.71 L589.10 71.28 L589.60 70.85 L590.10 70.42 L590.60 69.99 L591.10 69.57 L591.60 69.14 L592.10 68.71 L592.60 68.28 L593.10 67.85 L593.60 67.42 L594.10 67.00 L594.60 66.57 L595.10 66.14 L595.60 65.71 L596.10 65.28 L596.60 64.85 L597.10 64.43 L597.60 64.00 L598.10 63.57 L598.60 63.14 L599.10 62.71 L599.60 62.28 L600.10 61.86 L600.60 61.43 L601.10 61.00 L601.60 60.57 L602.10 60.15 L602.60 59.72 L603.10 59.29 L603.60 58.86 L604.10 58.44 L604.60 58.01 L605.10 57.58 L605.60 57.15 L606.10 56.73 L606.60 56.30 L607.10 55.87 L607.60 55.45 L608.10 55.02 L608.60 54.59 L609.10 54.17 L609.60 53.74 L610.10 53.32 L610.60 52.89 L611.10 52.46 L611.60 52.04 L612.10 51.61 L612.60 51.19 L613.10 50.76 L613.60 50.34 L614.10 49.92 L614.60 49.49 L615.10 49.07 L615.60 48.64 L616.10 48.22 L616.60 47.80 L617.10 47.37 L617.60 46.95 L618.10 46.52 L618.60 46.10 L619.10 45.68 L619.60 45.25 L620.10 44.83 L620.60 44.41 L621.10 43.99 L621.60 43.56 L622.10 43.14 L622.60 42.72 L623.10 42.30 L623.60 41.87 L624.10 41.45 L624.60 41.03 L625.10 40.61 L625.60 40.19 L626.10 39.76 L626.60 39.34 L627.10 38.92 L627.60 38.50 L628.10 38.08 L628.60 37.66 L629.10 37.24 L629.60 36.81 L630.10 36.39 L630.60 35.97 L631.10 35.55 L631.60 35.13 L632.10 34.71 L632.60 34.29 L633.10 33.87 L633.60 33.45 L634.10 33.03 L634.60 32.61 L635.10 32.19 L635.60 31.77 L636.10 31.35 L636.60 30.93 L637.10 30.51 L637.60 30.09 L638.10 29.67 L638.30 29.50" fill="none" stroke="#111" stroke-width="1.12" stroke-dasharray="3.3 1.1"/>
<path d="M408.00 219.50 L408.50 219.00 L409.00 218.50 L409.50 218.00 L410.00 217.50 L410.50 217.00 L411.00 216.51 L411.50 216.01 L412.00 215.51 L412.50 215.02 L413.00 214.53 L413.50 214.03 L414.00 213.54 L414.50 213.05 L415.00 212.56 L415.50 212.06 L416.00 211.57 L416.50 211.09 L417.00 210.60 L417.50 210.11 L418.00 209.62 L418.50 209.13 L419.00 208.65 L419.50 208.16 L420.00 207.68 L420.50 207.19 L421.00 206.71 L421.50 206.23 L422.00 205.75 L422.50 205.27 L423.00 204.78 L423.50 204.30 L424.00 203.82 L424.50 203.35 L425.00 202.87 L425.50 202.39 L426.00 201.91 L426.50 201.44 L427.00 200.96 L427.50 200.49 L428.00 200.01 L428.50 199.54 L429.00 199.06 L429.50 198.59 L430.00 198.12 L430.50 197.65 L431.00 197.18 L431.50 196.71 L432.00 196.24 L432.50 195.77 L433.00 195.30 L433.50 194.83 L434.00 194.36 L434.50 193.90 L435.00 193.43 L435.50 192.97 L436.00 192.50 L436.50 192.04 L437.00 191.57 L437.50 191.11 L438.00 190.65 L438.50 190.18 L439.00 189.72 L439.50 189.26 L440.00 188.80 L440.50 188.34 L441.00 187.88 L441.50 187.43 L442.00 186.97 L442.50 186.52 L443.00 186.07 L443.50 185.62 L444.00 185.17 L444.50 184.72 L445.00 184.27 L445.50 183.83 L446.00 183.38 L446.50 182.94 L447.00 182.50 L447.50 182.06 L448.00 181.61 L448.50 181.17 L449.00 180.73 L449.50 180.29 L450.00 179.85 L450.50 179.41 L451.00 178.97 L451.50 178.54 L452.00 178.10 L452.50 177.66 L453.00 177.22 L453.50 176.78 L454.00 176.34 L454.50 175.90 L455.00 175.46 L455.50 175.01 L456.00 174.57 L456.50 174.13 L457.00 173.68 L457.50 173.24 L458.00 172.79 L458.50 172.35 L459.00 171.90 L459.50 171.45 L460.00 171.00 L460.50 170.55 L461.00 170.09 L461.50 169.63 L462.00 169.17 L462.50 168.71 L463.00 168.25 L463.50 167.78 L464.00 167.32 L464.50 166.85 L465.00 166.38 L465.50 165.92 L466.00 165.45 L466.50 164.98 L467.00 164.51 L467.50 164.05 L468.00 163.58 L468.50 163.12 L469.00 162.65 L469.50 162.19 L470.00 161.73 L470.50 161.27 L471.00 160.82 L471.50 160.37 L472.00 159.92 L472.50 159.47 L473.00 159.03 L473.50 158.59 L474.00 158.16 L474.50 157.73 L475.00 157.30 L475.50 156.88 L476.00 156.46 L476.50 156.06 L477.00 155.65 L477.50 155.25 L478.00 154.85 L478.50 154.45 L479.00 154.06 L479.50 153.67 L480.00 153.27 L480.50 152.88 L481.00 152.49 L481.50 152.09 L482.00 151.70 L482.50 151.30 L483.00 150.90 L483.50 150.50 L484.00 150.10 L484.50 149.70 L485.00 149.30 L485.50 148.90 L486.00 148.50 L486.50 148.09 L487.00 147.69 L487.50 147.29 L488.00 146.89 L488.50 146.49 L489.00 146.10 L489.50 145.70 L490.00 145.30 L490.50 144.90 L491.00 144.50 L491.50 144.11 L492.00 143.71 L492.50 143.31 L493.00 142.91 L493.50 142.52 L494.00 142.12 L494.50 141.73 L495.00 141.33 L495.50 140.94 L496.00 140.55 L496.50 140.15 L497.00 139.76 L497.50 139.38 L498.00 138.99 L498.50 138.59 L499.00 138.18 L499.50 137.76 L500.00 137.34 L500.50 136.93 L501.00 136.51 L501.50 136.11 L502.00 135.71 L502.50 135.33 L503.00 134.96 L503.50 134.61 L504.00 134.28 L504.50 133.98 L505.00 133.70 L505.50 133.45 L506.00 133.21 L506.50 132.99 L507.00 132.78 L507.50 132.58 L508.00 132.39 L508.50 132.20 L509.00 132.02 L509.50 131.84 L510.00 131.66 L510.50 131.48 L511.00 131.31 L511.50 131.15 L512.00 130.99 L512.50 130.83 L513.00 130.67 L513.50 130.52 L514.00 130.36 L514.50 130.20 L515.00 130.04 L515.50 129.88 L516.00 129.71 L516.50 129.53 L517.00 129.36 L517.50 129.19 L518.00 129.03 L518.50 128.86 L519.00 128.67 L519.50 128.47 L520.00 128.25 L520.50 128.00 L521.00 127.71 L521.50 127.37 L522.00 126.98 L522.50 126.55 L523.00 126.09 L523.50 125.60 L524.00 125.07 L524.50 124.45 L525.00 123.75 L525.50 123.02 L526.00 122.29 L526.50 121.59 L527.00 120.95 L527.50 120.33 L528.00 119.72 L528.50 119.13 L529.00 118.56 L529.50 118.02 L530.00 117.50 L530.50 117.01 L531.00 116.54 L531.50 116.10 L532.00 115.68 L532.50 115.28 L532.60 115.20" fill="none" stroke="#111" stroke-width="1.12" stroke-dasharray="3.3 1.1"/><path d="M532.60 115.20 L533.10 115.17 L533.60 115.13 L534.10 115.10 L534.60 115.07 L535.10 115.05 L535.60 115.02 L536.10 115.00 L536.60 114.98 L537.10 114.96 L537.60 114.94 L538.10 114.92 L538.60 114.90 L539.10 114.89 L539.60 114.88 L540.10 114.86 L540.60 114.85 L541.10 114.84 L541.60 114.84 L542.10 114.83 L542.60 114.82 L543.10 114.82 L543.60 114.81 L544.10 114.81 L544.60 114.81 L545.10 114.80 L545.60 114.80 L546.10 114.80 L546.60 114.80 L547.10 114.80 L547.60 114.80 L548.10 114.81 L548.60 114.82 L549.10 114.83 L549.60 114.85 L550.10 114.87 L550.60 114.89 L551.10 114.91 L551.60 114.94 L552.10 114.97 L552.60 115.00 L553.10 115.03 L553.60 115.06 L554.10 115.10 L554.60 115.14 L555.10 115.18 L555.60 115.21 L556.10 115.26 L556.60 115.30 L557.10 115.34 L557.60 115.38 L558.10 115.43 L558.60 115.47 L559.10 115.51 L559.60 115.56 L560.10 115.60 L560.60 115.65 L561.10 115.69 L561.60 115.73 L562.10 115.78 L562.60 115.82 L563.10 115.86 L563.60 115.90 L564.10 115.94 L564.60 115.98 L565.10 116.02 L565.60 116.07 L566.10 116.11 L566.60 116.16 L567.10 116.21 L567.60 116.25 L568.10 116.30 L568.60 116.35 L569.10 116.40 L569.60 116.45 L570.10 116.50 L570.60 116.56 L571.10 116.61 L571.60 116.66 L572.10 116.71 L572.60 116.77 L573.10 116.82 L573.60 116.88 L574.10 116.93 L574.60 116.98 L575.10 117.04 L575.60 117.09 L576.10 117.15 L576.60 117.20 L577.10 117.25 L577.60 117.31 L578.10 117.36 L578.60 117.41 L579.10 117.47 L579.60 117.52 L580.10 117.57 L580.60 117.62 L581.10 117.67 L581.60 117.72 L582.10 117.77 L582.60 117.83 L583.10 117.88 L583.60 117.93 L584.10 117.98 L584.60 118.04 L585.10 118.09 L585.60 118.14 L586.10 118.20 L586.60 118.25 L587.10 118.30 L587.60 118.36 L588.10 118.41 L588.60 118.46 L589.10 118.52 L589.60 118.57 L590.10 118.62 L590.60 118.67 L591.10 118.72 L591.60 118.77 L592.10 118.82 L592.60 118.87 L593.10 118.92 L593.60 118.97 L594.10 119.02 L594.60 119.07 L595.10 119.12 L595.60 119.16 L596.10 119.21 L596.60 119.26 L597.10 119.30 L597.60 119.34 L598.10 119.39 L598.60 119.43 L599.10 119.47 L599.60 119.51 L600.10 119.55 L600.60 119.59 L601.10 119.63 L601.60 119.67 L602.10 119.71 L602.60 119.75 L603.10 119.79 L603.60 119.82 L604.10 119.86 L604.60 119.90 L605.10 119.93 L605.60 119.97 L606.10 120.01 L606.60 120.05 L607.10 120.08 L607.60 120.12 L608.10 120.16 L608.60 120.19 L609.10 120.23 L609.60 120.27 L610.10 120.30 L610.60 120.34 L611.10 120.38 L611.60 120.42 L612.10 120.46 L612.60 120.50 L613.10 120.54 L613.60 120.58 L614.10 120.62 L614.60 120.66 L615.10 120.70 L615.60 120.74 L616.10 120.78 L616.60 120.82 L617.10 120.86 L617.60 120.90 L618.10 120.94 L618.60 120.99 L619.10 121.03 L619.60 121.07 L620.10 121.11 L620.60 121.15 L621.10 121.19 L621.60 121.24 L622.10 121.28 L622.60 121.32 L623.10 121.36 L623.60 121.41 L624.10 121.45 L624.60 121.49 L625.10 121.53 L625.60 121.58 L626.10 121.62 L626.60 121.66 L627.10 121.71 L627.60 121.75 L628.10 121.79 L628.60 121.84 L629.10 121.88 L629.60 121.92 L630.10 121.97 L630.60 122.01 L631.10 122.05 L631.60 122.10 L632.10 122.14 L632.60 122.19 L633.10 122.23 L633.60 122.28 L634.10 122.32 L634.60 122.37 L635.10 122.41 L635.60 122.46 L636.10 122.50 L636.60 122.55 L637.10 122.59 L637.60 122.64 L638.10 122.68 L638.30 122.70" fill="none" stroke="#111" stroke-width="1.12" stroke-dasharray="3.8 1.2"/>
<path d="M408.00 134.40 L408.50 134.34 L409.00 134.28 L409.50 134.22 L410.00 134.16 L410.50 134.09 L411.00 134.03 L411.50 133.97 L412.00 133.91 L412.50 133.85 L413.00 133.79 L413.50 133.72 L414.00 133.66 L414.50 133.60 L415.00 133.54 L415.50 133.48 L416.00 133.41 L416.50 133.35 L417.00 133.29 L417.50 133.23 L418.00 133.16 L418.50 133.10 L419.00 133.04 L419.50 132.98 L420.00 132.91 L420.50 132.85 L421.00 132.79 L421.50 132.72 L422.00 132.66 L422.50 132.60 L423.00 132.54 L423.50 132.47 L424.00 132.41 L424.50 132.35 L425.00 132.28 L425.50 132.22 L426.00 132.16 L426.50 132.09 L427.00 132.03 L427.50 131.96 L428.00 131.90 L428.50 131.84 L429.00 131.77 L429.50 131.71 L430.00 131.64 L430.50 131.58 L431.00 131.52 L431.50 131.45 L432.00 131.39 L432.50 131.32 L433.00 131.26 L433.50 131.19 L434.00 131.13 L434.50 131.07 L435.00 131.00 L435.50 130.94 L436.00 130.87 L436.50 130.81 L437.00 130.74 L437.50 130.68 L438.00 130.61 L438.50 130.55 L439.00 130.48 L439.50 130.42 L440.00 130.35 L440.50 130.29 L441.00 130.22 L441.50 130.16 L442.00 130.09 L442.50 130.02 L443.00 129.96 L443.50 129.89 L444.00 129.83 L444.50 129.76 L445.00 129.70 L445.50 129.63 L446.00 129.56 L446.50 129.50 L447.00 129.43 L447.50 129.37 L448.00 129.30 L448.50 129.23 L449.00 129.17 L449.50 129.10 L450.00 129.04 L450.50 128.97 L451.00 128.90 L451.50 128.84 L452.00 128.77 L452.50 128.70 L453.00 128.64 L453.50 128.57 L454.00 128.50 L454.50 128.44 L455.00 128.37 L455.50 128.30 L456.00 128.24 L456.50 128.17 L457.00 128.10 L457.50 128.04 L458.00 127.97 L458.50 127.90 L459.00 127.83 L459.50 127.77 L460.00 127.70 L460.50 127.63 L461.00 127.56 L461.50 127.50 L462.00 127.43 L462.50 127.36 L463.00 127.29 L463.50 127.22 L464.00 127.14 L464.50 127.07 L465.00 127.00 L465.50 126.93 L466.00 126.86 L466.50 126.78 L467.00 126.71 L467.50 126.64 L468.00 126.56 L468.50 126.49 L469.00 126.41 L469.50 126.34 L470.00 126.26 L470.50 126.19 L471.00 126.11 L471.50 126.04 L472.00 125.96 L472.50 125.89 L473.00 125.81 L473.50 125.74 L474.00 125.66 L474.50 125.59 L475.00 125.51 L475.50 125.44 L476.00 125.36 L476.50 125.29 L477.00 125.21 L477.50 125.14 L478.00 125.06 L478.50 124.99 L479.00 124.92 L479.50 124.84 L480.00 124.77 L480.50 124.70 L481.00 124.62 L481.50 124.55 L482.00 124.48 L482.50 124.41 L483.00 124.33 L483.50 124.26 L484.00 124.19 L484.50 124.12 L485.00 124.05 L485.50 123.98 L486.00 123.92 L486.50 123.85 L487.00 123.78 L487.50 123.71 L488.00 123.65 L488.50 123.58 L489.00 123.52 L489.50 123.45 L490.00 123.39 L490.50 123.33 L491.00 123.27 L491.50 123.20 L492.00 123.14 L492.50 123.08 L493.00 123.03 L493.50 122.97 L494.00 122.91 L494.50 122.86 L495.00 122.80 L495.50 122.75 L496.00 122.70 L496.50 122.65 L497.00 122.60 L497.50 122.55 L498.00 122.51 L498.50 122.47 L499.00 122.42 L499.50 122.38 L500.00 122.34 L500.50 122.30 L501.00 122.26 L501.50 122.23 L502.00 122.19 L502.50 122.15 L503.00 122.11 L503.50 122.07 L504.00 122.03 L504.50 121.98 L505.00 121.94 L505.50 121.89 L506.00 121.85 L506.50 121.80 L507.00 121.75 L507.50 121.70 L508.00 121.64 L508.50 121.59 L509.00 121.53 L509.50 121.47 L510.00 121.40 L510.50 121.33 L511.00 121.25 L511.50 121.17 L512.00 121.08 L512.50 120.99 L513.00 120.89 L513.50 120.79 L514.00 120.68 L514.50 120.57 L515.00 120.46 L515.50 120.34 L516.00 120.23 L516.50 120.10 L517.00 119.98 L517.50 119.86 L518.00 119.73 L518.50 119.61 L519.00 119.48 L519.50 119.35 L520.00 119.23 L520.50 119.10 L521.00 118.97 L521.50 118.84 L522.00 118.71 L522.50 118.58 L523.00 118.44 L523.50 118.30 L524.00 118.15 L524.50 118.01 L525.00 117.86 L525.50 117.71 L526.00 117.55 L526.50 117.40 L527.00 117.24 L527.50 117.07 L528.00 116.90 L528.50 116.73 L529.00 116.56 L529.50 116.38 L530.00 116.20 L530.50 116.01 L531.00 115.82 L531.50 115.63 L532.00 115.44 L532.50 115.24 L532.60 115.20 L533.10 115.01 L533.60 114.82 L534.10 114.64 L534.60 114.45 L535.10 114.26 L535.60 114.07 L536.10 113.88 L536.60 113.70 L537.10 113.51 L537.60 113.32 L538.10 113.13 L538.60 112.94 L539.10 112.76 L539.60 112.57 L540.10 112.38 L540.60 112.19 L541.10 112.00 L541.60 111.81 L542.10 111.63 L542.60 111.44 L543.10 111.25 L543.60 111.06 L544.10 110.87 L544.60 110.69 L545.10 110.50 L545.60 110.31 L546.10 110.12 L546.60 109.93 L547.10 109.75 L547.60 109.56 L548.10 109.37 L548.60 109.18 L549.10 109.00 L549.60 108.81 L550.10 108.62 L550.60 108.43 L551.10 108.24 L551.60 108.06 L552.10 107.87 L552.60 107.68 L553.10 107.49 L553.60 107.30 L554.10 107.12 L554.60 106.93 L555.10 106.74 L555.60 106.55 L556.10 106.36 L556.60 106.18 L557.10 105.99 L557.60 105.80 L558.10 105.61 L558.60 105.43 L559.10 105.24 L559.60 105.05 L560.10 104.86 L560.60 104.67 L561.10 104.49 L561.60 104.30 L562.10 104.11 L562.60 103.92 L563.10 103.73 L563.60 103.54 L564.10 103.35 L564.60 103.16 L565.10 102.97 L565.60 102.78 L566.10 102.59 L566.60 102.40 L567.10 102.21 L567.60 102.02 L568.10 101.83 L568.60 101.64 L569.10 101.45 L569.60 101.26 L570.10 101.07 L570.60 100.88 L571.10 100.68 L571.60 100.49 L572.10 100.30 L572.60 100.11 L573.10 99.92 L573.60 99.73 L574.10 99.53 L574.60 99.34 L575.10 99.15 L575.60 98.96 L576.10 98.77 L576.60 98.57 L577.10 98.38 L577.60 98.19 L578.10 98.00 L578.60 97.80 L579.10 97.61 L579.60 97.42 L580.10 97.23 L580.60 97.03 L581.10 96.84 L581.60 96.65 L582.10 96.46 L582.60 96.27 L583.10 96.07 L583.60 95.88 L584.10 95.69 L584.60 95.50 L585.10 95.30 L585.60 95.11 L586.10 94.92 L586.60 94.73 L587.10 94.54 L587.60 94.35 L588.10 94.15 L588.60 93.96 L589.10 93.77 L589.60 93.58 L590.10 93.39 L590.60 93.20 L591.10 93.01 L591.60 92.82 L592.10 92.63 L592.60 92.43 L593.10 92.24 L593.60 92.05 L594.10 91.86 L594.60 91.67 L595.10 91.49 L595.60 91.30 L596.10 91.11 L596.60 90.92 L597.10 90.73 L597.60 90.54 L598.10 90.35 L598.60 90.16 L599.10 89.98 L599.60 89.79 L600.10 89.60 L600.60 89.41 L601.10 89.23 L601.60 89.04 L602.10 88.85 L602.60 88.67 L603.10 88.48 L603.60 88.29 L604.10 88.11 L604.60 87.92 L605.10 87.74 L605.60 87.56 L606.10 87.37 L606.60 87.19 L607.10 87.00 L607.60 86.82 L608.10 86.64 L608.60 86.46 L609.10 86.27 L609.60 86.09 L610.10 85.91 L610.60 85.73 L611.10 85.55 L611.60 85.37 L612.10 85.19 L612.60 85.01 L613.10 84.83 L613.60 84.65 L614.10 84.47 L614.60 84.29 L615.10 84.12 L615.60 83.94 L616.10 83.76 L616.60 83.59 L617.10 83.41 L617.60 83.24 L618.10 83.06 L618.60 82.89 L619.10 82.71 L619.60 82.54 L620.10 82.37 L620.60 82.19 L621.10 82.02 L621.60 81.85 L622.10 81.68 L622.60 81.51 L623.10 81.34 L623.60 81.17 L624.10 81.00 L624.60 80.84 L625.10 80.67 L625.60 80.50 L626.10 80.34 L626.60 80.17 L627.10 80.01 L627.60 79.84 L628.10 79.68 L628.60 79.51 L629.10 79.35 L629.60 79.19 L630.10 79.02 L630.60 78.86 L631.10 78.70 L631.60 78.54 L632.10 78.38 L632.60 78.22 L633.10 78.06 L633.60 77.90 L634.10 77.74 L634.60 77.58 L635.10 77.42 L635.60 77.26 L636.10 77.10 L636.60 76.94 L637.10 76.78 L637.60 76.62 L638.10 76.46 L638.30 76.40" fill="none" stroke="#111" stroke-width="1.12"/>
<rect x="399.9" y="24.5" width="244.0" height="201.2" fill="none" stroke="#707070" stroke-width="1.4"/>
<line x1="395.9" y1="60.78" x2="399.9" y2="60.78" stroke="#707070" stroke-width="1"/>
<text transform="translate(394.05,65.48) scale(0.95,1)" text-anchor="end" class="tk">5.0</text>
<line x1="395.9" y1="91.62" x2="399.9" y2="91.62" stroke="#707070" stroke-width="1"/>
<text transform="translate(394.05,96.32) scale(0.95,1)" text-anchor="end" class="tk">2.0</text>
<line x1="395.9" y1="114.95" x2="399.9" y2="114.95" stroke="#707070" stroke-width="1"/>
<text transform="translate(394.05,119.65) scale(0.95,1)" text-anchor="end" class="tk">1.0</text>
<line x1="395.9" y1="138.28" x2="399.9" y2="138.28" stroke="#707070" stroke-width="1"/>
<text transform="translate(394.05,142.98) scale(0.95,1)" text-anchor="end" class="tk">0.5</text>
<line x1="643.9" y1="220.50" x2="647.9" y2="220.50" stroke="#707070" stroke-width="1"/>
<text transform="translate(649.60,224.90) scale(0.95,1)" class="tk">0</text>
<line x1="643.9" y1="170.10" x2="647.9" y2="170.10" stroke="#707070" stroke-width="1"/>
<text transform="translate(649.60,174.50) scale(0.95,1)" class="tk">5</text>
<line x1="643.9" y1="119.70" x2="647.9" y2="119.70" stroke="#707070" stroke-width="1"/>
<text transform="translate(650.30,124.10) scale(0.95,1)" class="tk">10</text>
<line x1="643.9" y1="69.30" x2="647.9" y2="69.30" stroke="#707070" stroke-width="1"/>
<text transform="translate(650.30,73.70) scale(0.95,1)" class="tk">15</text>
<line x1="408.00" y1="225.7" x2="408.00" y2="230.0" stroke="#707070" stroke-width="1"/>
<text transform="translate(408.00,240.3) scale(0.95,1)" text-anchor="middle" class="tk">-5.0</text>
<line x1="431.00" y1="225.7" x2="431.00" y2="230.0" stroke="#707070" stroke-width="1"/>
<text transform="translate(431.00,240.3) scale(0.95,1)" text-anchor="middle" class="tk">-4.0</text>
<line x1="454.00" y1="225.7" x2="454.00" y2="230.0" stroke="#707070" stroke-width="1"/>
<text transform="translate(454.00,240.3) scale(0.95,1)" text-anchor="middle" class="tk">-3.0</text>
<line x1="477.00" y1="225.7" x2="477.00" y2="230.0" stroke="#707070" stroke-width="1"/>
<text transform="translate(477.00,240.3) scale(0.95,1)" text-anchor="middle" class="tk">-2.0</text>
<line x1="500.00" y1="225.7" x2="500.00" y2="230.0" stroke="#707070" stroke-width="1"/>
<text transform="translate(500.00,240.3) scale(0.95,1)" text-anchor="middle" class="tk">-1.0</text>
<line x1="523.00" y1="225.7" x2="523.00" y2="230.0" stroke="#707070" stroke-width="1"/>
<text transform="translate(523.00,240.3) scale(0.95,1)" text-anchor="middle" class="tk">0</text>
<line x1="546.00" y1="225.7" x2="546.00" y2="230.0" stroke="#707070" stroke-width="1"/>
<text transform="translate(546.00,240.3) scale(0.95,1)" text-anchor="middle" class="tk">1.0</text>
<line x1="569.00" y1="225.7" x2="569.00" y2="230.0" stroke="#707070" stroke-width="1"/>
<text transform="translate(569.00,240.3) scale(0.95,1)" text-anchor="middle" class="tk">2.0</text>
<line x1="592.00" y1="225.7" x2="592.00" y2="230.0" stroke="#707070" stroke-width="1"/>
<text transform="translate(592.00,240.3) scale(0.95,1)" text-anchor="middle" class="tk">3.0</text>
<line x1="615.00" y1="225.7" x2="615.00" y2="230.0" stroke="#707070" stroke-width="1"/>
<text transform="translate(615.00,240.3) scale(0.95,1)" text-anchor="middle" class="tk">4.0</text>
<line x1="638.00" y1="225.7" x2="638.00" y2="230.0" stroke="#707070" stroke-width="1"/>
<text transform="translate(638.00,240.3) scale(0.95,1)" text-anchor="middle" class="tk">5.0</text>
<text x="522.2" y="259" text-anchor="middle" class="ax">Height Loss(cm)</text>
<text transform="translate(362.0,124.5) rotate(-90)" text-anchor="middle" class="ax">Hazard Ratio</text>
<text y="10.9" class="pl"><tspan x="384.27">(</tspan><tspan x="389.17" style="font-size:12.8px">b</tspan><tspan x="396.98">)</tspan></text>
<text x="667.2" y="32.6" class="pc">(%)</text>
</g>
</svg>
</body></html>
